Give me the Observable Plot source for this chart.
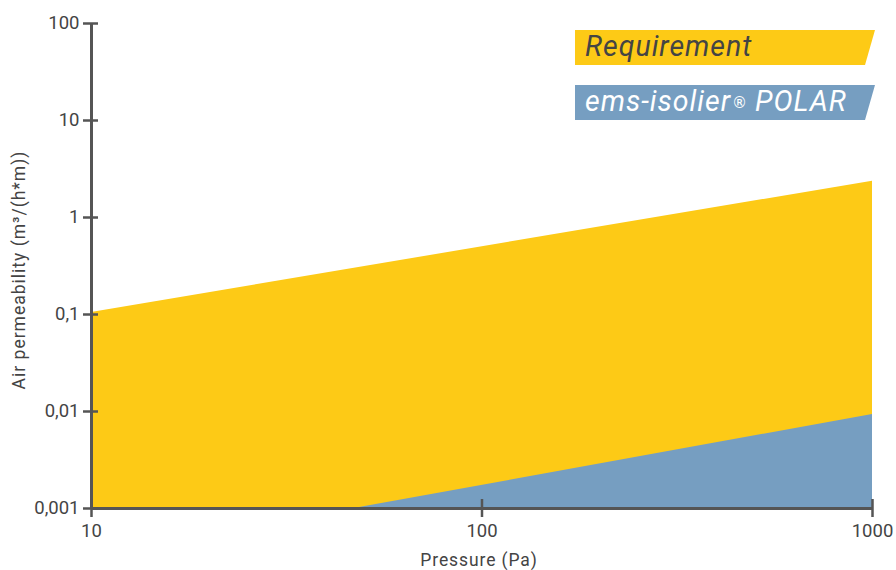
<!DOCTYPE html>
<html>
<head>
<meta charset="utf-8">
<script src="https://cdn.jsdelivr.net/npm/d3@7"></script>
<script src="https://cdn.jsdelivr.net/npm/@observablehq/plot@0.6"></script>
<style>
  html, body { margin: 0; padding: 0; background: #fff; }
  #wrap { position: relative; width: 896px; height: 570px; font-family: Roboto, "Liberation Sans", Arial, sans-serif; }
  .leg { position: absolute; left: 575px; width: 300px; height: 35px; display: flex; align-items: center;
         box-sizing: border-box; padding-left: 10px; font-style: italic; font-size: 28.5px; letter-spacing: 1px;
         clip-path: polygon(0 0, 100% 0, calc(100% - 10px) 100%, 0 100%); line-height: 1; white-space: pre; }
  .leg sup { font-family: "DejaVu Sans", sans-serif; font-style: normal; font-size: 15px; vertical-align: 8px; letter-spacing: 0; line-height: 0; margin-left: 1px; }
</style>
</head>
<body>
<div id="wrap"></div>
<script>
// ---- data ----
const reqPressure = [10, 1000];
const reqPermeability = [0.105, 2.37];
const polarPressure = [47, 1000];
const polarPermeability = [0.001, 0.0093];
const xTicks = [10, 100, 1000];
const xTickLabels = ["10", "100", "1000"];
const yTicks = [0.001, 0.01, 0.1, 1, 10, 100];
const yTickLabels = ["0,001", "0,01", "0,1", "1", "10", "100"];
const seriesNames = ["Requirement", "ems-isolier® POLAR"];
const seriesColors = ["#FDCA16", "#769EC1"];
const xTitle = "Pressure (Pa)";
const yTitle = "Air permeability (m³/(h*m))";

const req = reqPressure.map((p, i) => ({p, v: reqPermeability[i]}));
const polar = polarPressure.map((p, i) => ({p, v: polarPermeability[i]}));
const xLab = new Map(xTicks.map((t, i) => [t, xTickLabels[i]]));
const yLab = new Map(yTicks.map((t, i) => [t, yTickLabels[i]]));

const W = 896, H = 570, mL = 91, mR = 24, mT = 23, mB = 62;
const axisColor = "#555";
const textColor = "#444";

const chart = Plot.plot({
  width: W, height: H,
  marginLeft: mL, marginRight: mR, marginTop: mT, marginBottom: mB,
  style: {fontFamily: "Roboto, Liberation Sans, Arial, sans-serif", fontSize: "18.5px", color: textColor, background: "#fff"},
  x: {type: "log", domain: [10, 1000], label: null},
  y: {type: "log", domain: [0.001, 100], label: null},
  marks: [
    Plot.areaY(req, {x: "p", y: "v", y1: 0.001, fill: seriesColors[0]}),
    Plot.areaY(polar, {x: "p", y: "v", y1: 0.001, fill: seriesColors[1]}),
    Plot.ruleX([10], {stroke: axisColor, strokeWidth: 3}),
    Plot.ruleY([0.001], {stroke: axisColor, strokeWidth: 3}),
    Plot.tickY(yTicks, {y: d => d, stroke: axisColor, strokeWidth: 2.5, insetLeft: -8, insetRight: (W - mR) - (mL + 7)}),
    Plot.tickX(xTicks, {x: d => d, stroke: axisColor, strokeWidth: 2.5, insetTop: (H - mB) - mT - 9, insetBottom: -9}),
    Plot.axisY({ticks: yTicks, tickFormat: d => yLab.get(d), tickSize: 0, tickPadding: 12, label: null, fill: textColor}),
    Plot.axisX({ticks: xTicks, tickFormat: d => xLab.get(d), tickSize: 0, tickPadding: 15, label: null, fill: textColor}),
    Plot.text([xTitle], {text: d => d, frameAnchor: "bottom", textAnchor: "middle", lineAnchor: "middle", dx: -3, dy: 52, fontSize: 17.5, fill: textColor}),
    Plot.text([yTitle], {text: d => d, frameAnchor: "left", textAnchor: "middle", lineAnchor: "middle", rotate: -90, dx: -72, dy: 4, fontSize: 17.5, fill: textColor})
  ]
});

// letter spacing for the axis titles
chart.querySelectorAll("text").forEach(t => {
  if (t.textContent === xTitle) t.setAttribute("letter-spacing", "0.9");
  if (t.textContent === yTitle) t.setAttribute("letter-spacing", "1");
});

const wrap = document.getElementById("wrap");
wrap.appendChild(chart);

const legTops = [30, 85];
const legText = ["#444", "#fff"];
seriesNames.forEach((name, i) => {
  const d = document.createElement("div");
  d.className = "leg";
  d.style.top = legTops[i] + "px";
  d.style.background = seriesColors[i];
  d.style.color = legText[i];
  if (name.includes("®")) {
    const [a, b] = name.split("®");
    d.append(a);
    const s = document.createElement("sup");
    s.textContent = "®";
    d.append(s);
    d.append(b);
  } else d.textContent = name;
  wrap.appendChild(d);
});
</script>
</body>
</html>
